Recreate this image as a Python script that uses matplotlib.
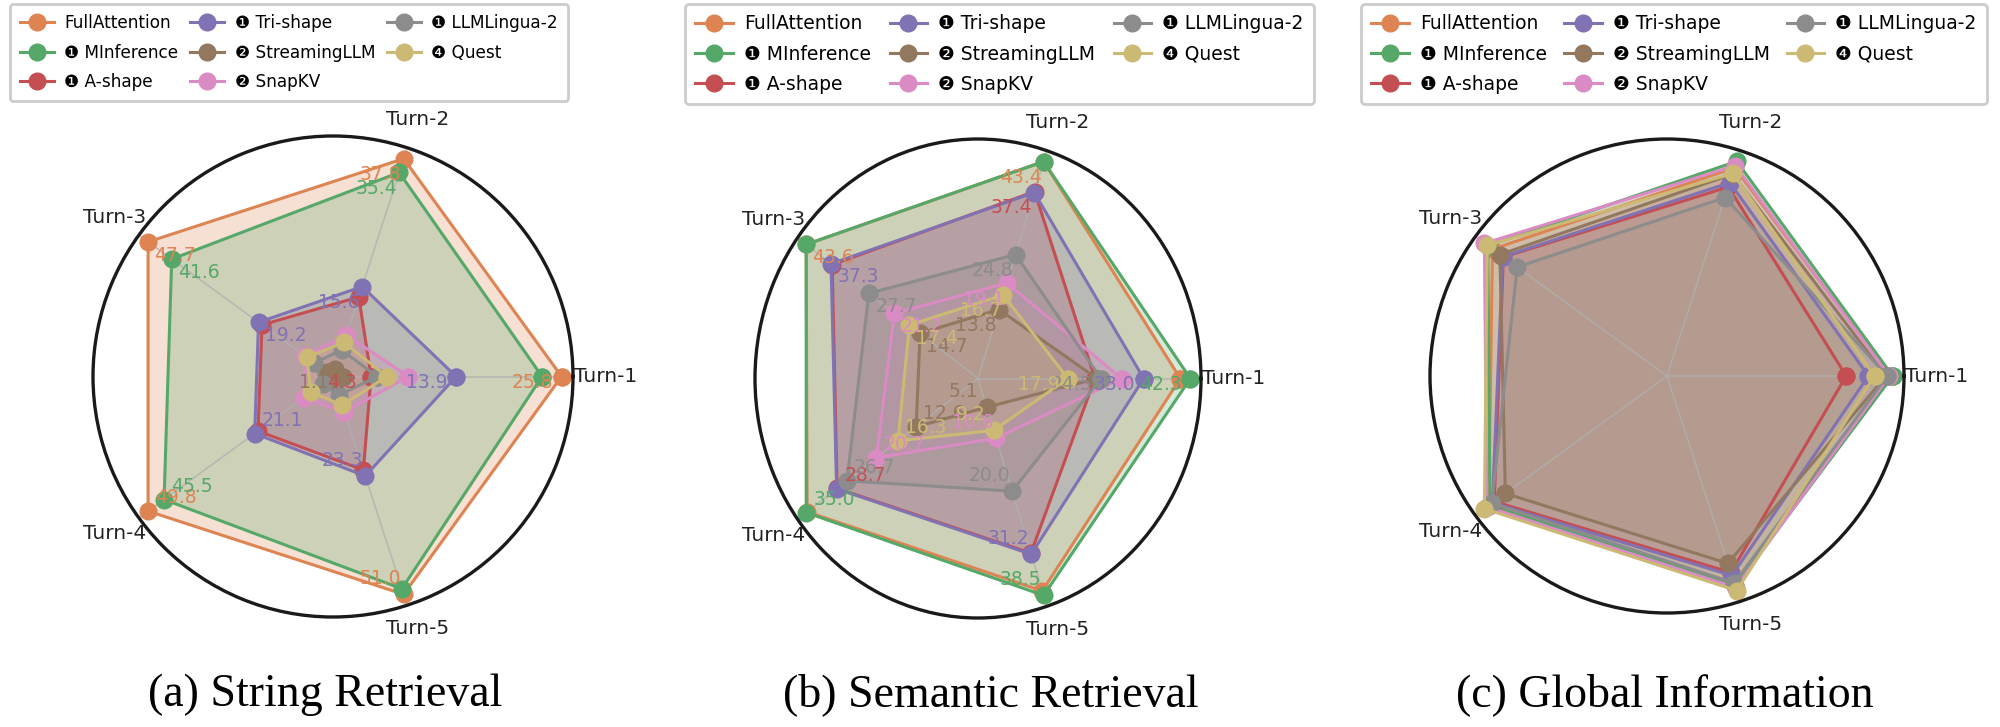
import numpy as np
import matplotlib
matplotlib.use("Agg")
import matplotlib.pyplot as plt

turns = ["Turn-1", "Turn-2", "Turn-3", "Turn-4", "Turn-5"]
methods = ["FullAttention", "❶ MInference", "❶ A-shape", "❶ Tri-shape",
           "❷ StreamingLLM", "❷ SnapKV", "❶ LLMLingua-2", "❹ Quest"]
colors = ["#DD8452", "#55A868", "#C44E52", "#8172B3",
          "#937860", "#DA8BC3", "#8C8C8C", "#CCB974"]

# (a) String Retrieval, rows follow `methods`, columns follow `turns`
string_vals = [
    [25.8, 37.8, 47.7, 49.8, 51.0],
    [23.6, 35.4, 41.6, 45.5, 49.7],
    [4.3, 13.8, 18.3, 20.2, 21.9],
    [13.9, 15.6, 19.2, 21.1, 23.3],
    [1.1, 1.3, 1.6, 1.2, 1.4],
    [8.5, 7.2, 7.2, 7.8, 8.3],
    [5.0, 4.6, 4.8, 2.8, 4.4],
    [6.1, 5.9, 6.8, 5.9, 6.7],
]
string_show = [
    [1, 1, 1, 1, 1],
    [0, 1, 1, 1, 0],
    [1, 0, 0, 0, 0],
    [1, 1, 1, 1, 1],
    [1, 0, 0, 0, 0],
    [0, 0, 0, 0, 0],
    [0, 0, 0, 0, 0],
    [0, 0, 0, 0, 0],
]

# (b) Semantic Retrieval
semantic_vals = [
    [40.3, 43.4, 43.6, 34.8, 37.7],
    [42.3, 43.4, 43.6, 35.0, 38.5],
    [23.3, 37.4, 37.0, 28.7, 31.0],
    [33.0, 37.2, 37.3, 28.8, 31.2],
    [23.7, 13.8, 14.7, 12.6, 5.1],
    [28.6, 19.1, 21.2, 20.7, 10.6],
    [24.5, 24.8, 27.7, 26.7, 20.0],
    [17.9, 16.7, 17.4, 16.3, 9.2],
]
semantic_show = [
    [0, 1, 1, 0, 0],
    [1, 0, 0, 1, 1],
    [0, 1, 0, 1, 0],
    [1, 0, 1, 0, 1],
    [0, 1, 1, 1, 1],
    [0, 1, 1, 1, 1],
    [1, 1, 1, 1, 1],
    [1, 1, 1, 1, 1],
]

# (c) Global Information (no value labels in the figure)
global_vals = [
    [33.2, 29.3, 30.4, 28.9, 27.7],
    [33.5, 30.2, 31.2, 28.7, 27.8],
    [26.6, 26.6, 28.5, 28.0, 26.0],
    [29.9, 27.2, 28.6, 28.3, 26.4],
    [32.5, 28.4, 29.1, 26.2, 24.8],
    [33.0, 29.6, 31.8, 29.2, 28.0],
    [32.7, 25.1, 26.1, 28.4, 27.4],
    [30.8, 28.5, 31.3, 29.6, 28.4],
]

titles = ["(a) String Retrieval", "(b) Semantic Retrieval", "(c) Global Information"]

# offsets (points) of the value labels and of the turn labels, per turn
lab_off = [(-21, -4.3), (-16.5, -11.5), (19.5, -9.5), (20, 9.5), (-16.5, 11.5)]
turn_off = [(23.5, 0), (7.5, 20.5), (-17.5, 13), (-17.5, -11.5), (7.5, -16.5)]


def radar(ax, vals, show):
    vals = np.array(vals, dtype=float)
    norm = vals / vals.max(axis=0)
    ang = np.linspace(0, 2 * np.pi, len(turns), endpoint=False)
    ang_c = np.concatenate([ang, ang[:1]])
    for i, name in enumerate(methods):
        r = np.concatenate([norm[i], norm[i][:1]])
        ax.fill(ang_c, r, color=colors[i], alpha=0.25, lw=0)
        ax.plot(ang_c, r, color=colors[i], lw=2.2, marker='o', ms=12, label=name)
    if show is not None:
        for i in range(len(methods)):
            for j in range(len(turns)):
                if show[i][j]:
                    ax.annotate(f"{vals[i, j]:.1f}", xy=(ang[j], norm[i, j]),
                                xytext=lab_off[j], textcoords='offset points',
                                ha='center', va='center', fontsize=13.5,
                                color=colors[i])
    ax.set_aspect('auto')
    ax.set_ylim(0, 1.05)
    ax.set_yticks([])
    ax.set_xticks(ang)
    ax.set_xticklabels([])
    ax.tick_params(axis='x', size=0)
    for j, t in enumerate(turns):
        ax.annotate(t, xy=(ang[j], 1.05), xytext=turn_off[j], textcoords='offset points',
                    ha='center', va='center', fontsize=14.5, color='#222222',
                    annotation_clip=False)
    ax.xaxis.grid(True, color='#b0b0b0', lw=1.2, alpha=0.75)
    ax.spines['polar'].set_linewidth(2.4)
    ax.spines['polar'].set_color('#1a1a1a')


fig = plt.figure(figsize=(20, 7.27), dpi=100)
W, H = 2000.0, 727.0

# axes boxes in pixels: left, top, right, bottom
boxes = [(93, 136, 573, 617), (755, 139, 1201, 618), (1430, 139, 1904, 613)]
legend_x = [(10, 568), (685, 1314), (1361, 1987)]
legend_fs = [12.2, 13.5, 13.5]
title_x = [325, 991, 1665]
panels = [(string_vals, string_show), (semantic_vals, semantic_show), (global_vals, None)]

for k, (vals, show) in enumerate(panels):
    x0, y0, x1, y1 = boxes[k]
    ax = fig.add_axes([x0 / W, 1 - y1 / H, (x1 - x0) / W, (y1 - y0) / H], projection='polar')
    radar(ax, vals, show)
    h, l = ax.get_legend_handles_labels()
    lx0, lx1 = legend_x[k]
    fs = legend_fs[k]
    leg = fig.legend(h, l, loc='upper left', ncol=3, mode='expand',
                     bbox_to_anchor=(lx0 / W, 0.0, (lx1 - lx0) / W, 1 - 4 / H),
                     fontsize=fs, borderaxespad=0, labelspacing=0.6 * 13.5 / fs,
                     borderpad=0.55 * 13.5 / fs, handlelength=2.0,
                     handletextpad=0.6, columnspacing=0.6,
                     framealpha=1.0, edgecolor='#cccccc')
    leg.get_frame().set_linewidth(2.0)
    fig.text(title_x[k] / W, 1 - 695 / H, titles[k], ha='center', va='center',
             fontsize=33, family='Liberation Serif')

fig.savefig("out.png", dpi=100)
